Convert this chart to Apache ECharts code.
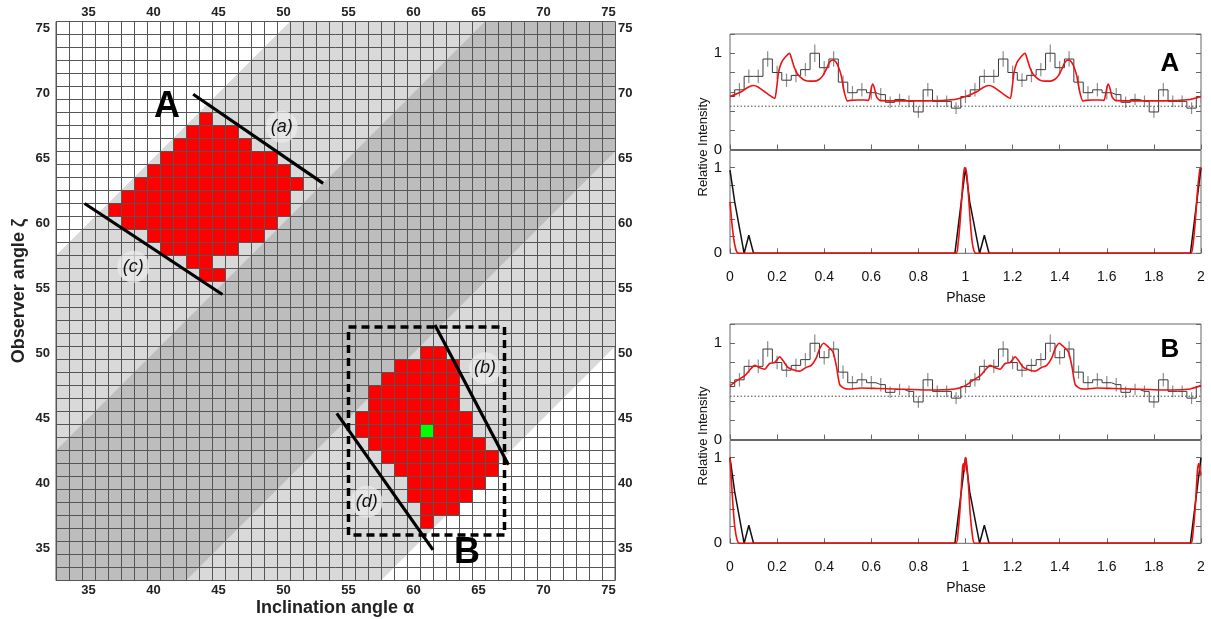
<!DOCTYPE html>
<html><head><meta charset="utf-8">
<script src="https://cdn.jsdelivr.net/npm/echarts@6/dist/echarts.min.js"></script>
<style>html,body{margin:0;padding:0;background:#fff}#c{width:1211px;height:619px}</style>
</head><body><div id="c"></div>
<script>
// ---------------- Left map data ----------------
const angleMin = 32.5, angleMax = 75.5;
const angleTicks = [35, 40, 45, 50, 55, 60, 65, 70, 75];
// shaded bands in beta = zeta - alpha
const bandLight = [-25, 25];
const bandDark = [-10, 10];
// red cells, rows: [zeta, alphaFrom, alphaTo]
const cellsA = [[68,44,44],[67,43,46],[66,42,47],[65,41,49],[64,40,50],[63,39,51],[62,38,50],[61,37,50],[60,38,49],[59,40,48],[58,41,46],[57,43,44],[56,44,45]];
const cellsB = [[50,61,62],[49,59,63],[48,58,63],[47,57,63],[46,57,63],[45,56,64],[44,56,64],[43,57,65],[42,58,66],[41,59,66],[40,60,65],[39,60,64],[38,61,63],[37,61,61]];
const bestCell = [61, 44];
const lineA = [[43.05, 69.9], [53.05, 63.05]];
const lineB = [[61.65, 52.15], [67.3, 41.4]];
const lineC = [[34.7, 61.5], [45.3, 54.5]];
const lineD = [[54.1, 45.35], [61.5, 34.85]];
const boxB = [[55, 52], [67, 52], [67, 36], [55, 36], [55, 52]];
const smallLabels = [["(a)", 49.86, 67.41], ["(b)", 65.5, 48.83], ["(c)", 38.45, 56.64], ["(d)", 56.4, 38.56]];
const bigLabels = [["A", 41.04, 68.92], ["B", 64.12, 34.62]];

// ---------------- Right panels data ----------------
const binPhase = [0,0.04,0.08,0.12,0.16,0.2,0.24,0.28,0.32,0.36,0.4,0.44,0.48,0.52,0.56,0.6,0.64,0.68,0.72,0.76,0.8,0.84,0.88,0.92,0.96];
const profile = [0.55,0.62,0.76,0.76,0.94,0.80,0.72,0.77,0.83,1.00,0.85,0.94,0.70,0.59,0.62,0.59,0.57,0.49,0.52,0.50,0.39,0.62,0.50,0.50,0.43];
const profileErr = [0.07,0.07,0.07,0.07,0.08,0.07,0.07,0.07,0.07,0.09,0.07,0.08,0.07,0.07,0.07,0.07,0.07,0.06,0.06,0.06,0.06,0.07,0.06,0.06,0.06];
const baseLevel = 0.45;
const modelA = [[0,0.55],[0.048,0.60],[0.075,0.645],[0.098,0.665],[0.119,0.65],[0.147,0.60],[0.17,0.56],[0.19,0.53],[0.198,0.64],[0.206,0.80],[0.218,0.90],[0.235,0.96],[0.253,1.00],[0.262,0.94],[0.272,0.86],[0.285,0.79],[0.30,0.75],[0.317,0.72],[0.34,0.71],[0.36,0.71],[0.38,0.73],[0.395,0.77],[0.41,0.84],[0.423,0.91],[0.437,0.93],[0.45,0.91],[0.462,0.85],[0.473,0.76],[0.485,0.60],[0.498,0.505],[0.51,0.51],[0.54,0.515],[0.57,0.515],[0.588,0.51],[0.597,0.60],[0.605,0.68],[0.613,0.64],[0.622,0.55],[0.636,0.51],[0.70,0.505],[0.84,0.505],[0.954,0.52],[1.0,0.55]];
const modelB = [[0,0.56],[0.034,0.62],[0.062,0.66],[0.083,0.72],[0.105,0.77],[0.126,0.745],[0.147,0.73],[0.168,0.79],[0.19,0.80],[0.211,0.86],[0.225,0.82],[0.246,0.75],[0.275,0.72],[0.296,0.71],[0.324,0.75],[0.345,0.77],[0.367,0.85],[0.38,0.94],[0.398,1.00],[0.416,0.965],[0.437,0.91],[0.452,0.76],[0.466,0.57],[0.487,0.53],[0.515,0.525],[0.558,0.535],[0.628,0.53],[0.70,0.525],[0.84,0.515],[0.954,0.525],[1.0,0.56]];
const pulseObsA = [[0,0.97],[0.02,0.6],[0.06,0],[0.08,0.21],[0.10,0],[0.955,0],[1.0,1.0],[1.018,0.6],[1.06,0],[1.08,0.21],[1.10,0],[1.955,0],[2.0,1.0]];
const pulseModelA = [[0,0.6],[0.01,0.3],[0.02,0.1],[0.03,0.01],[0.04,0],[0.958,0],[0.968,0.1],[0.978,0.4],[0.988,0.8],[0.996,1.0],[1.004,0.95],[1.012,0.7],[1.02,0.38],[1.028,0.14],[1.036,0.03],[1.045,0],[1.955,0],[1.965,0.08],[1.975,0.35],[1.985,0.72],[1.995,0.98],[2.0,1.0]];
const pulseObsB = [[0,1.0],[0.02,0.6],[0.06,0],[0.08,0.21],[0.10,0],[0.955,0],[1.0,1.0],[1.018,0.6],[1.06,0],[1.08,0.21],[1.10,0],[1.955,0],[2.0,1.0]];
const pulseModelB = [[0,1.0],[0.01,0.55],[0.02,0.2],[0.03,0.04],[0.04,0],[0.958,0],[0.968,0.12],[0.978,0.45],[0.988,0.9],[0.992,0.93],[0.996,0.84],[1.0,1.0],[1.004,0.95],[1.012,0.7],[1.02,0.35],[1.03,0.08],[1.04,0],[1.955,0],[1.965,0.1],[1.975,0.4],[1.985,0.85],[1.99,0.93],[1.996,0.85],[2.0,0.8]];

// ---------------- helpers ----------------
function clipStrip(lo, hi) {
  let poly = [[angleMin,angleMin],[angleMax,angleMin],[angleMax,angleMax],[angleMin,angleMax]];
  const clip = (pts, f) => {
    const out = [];
    for (let i = 0; i < pts.length; i++) {
      const a = pts[i], b = pts[(i + 1) % pts.length];
      const fa = f(a), fb = f(b);
      if (fa >= 0) out.push(a);
      if ((fa >= 0) !== (fb >= 0)) { const t = fa / (fa - fb); out.push([a[0] + t * (b[0] - a[0]), a[1] + t * (b[1] - a[1])]); }
    }
    return out;
  };
  poly = clip(poly, p => (p[1] - p[0]) - lo);
  poly = clip(poly, p => hi - (p[1] - p[0]));
  return poly;
}
const bands = [{lim: bandLight, color: '#d9d9d9'}, {lim: bandDark, color: '#bdbdbd'}];
function expandCells(rows) { const out = []; rows.forEach(r => { for (let a = r[1]; a <= r[2]; a++) out.push([a, r[0]]); }); return out; }
function twoCycles(pts) { return pts.concat(pts.filter(p => p[0] > 0).map(p => [p[0] + 1, p[1]])); }
const histPts = [], errPts = [];
for (let c = 0; c < 2; c++) binPhase.forEach((p, i) => { histPts.push([p + c, profile[i]]); errPts.push([p + c, profile[i], profileErr[i]]); });
histPts.push([2, profile[0]]); errPts.push([2, profile[0], profileErr[0]]);

const cellItem = (color) => (params, api) => {
  const p = api.coord([api.value(0) - 0.5, api.value(1) + 0.5]);
  const s = api.size([1, 1]);
  return {type: 'rect', shape: {x: p[0], y: p[1], width: s[0], height: s[1]}, style: {fill: color}};
};
const F = 'Liberation Sans, Arial, sans-serif';
const gridLine = {show: true, lineStyle: {color: '#555', width: 1}};
const tickLab = {fontFamily: F, fontWeight: 'bold', fontSize: 13, color: '#222'};

// ---------------- right panel layout ----------------
const panels = [
  {top: 34, height: 115.5, labels: false},
  {top: 150.5, height: 102.8, labels: true},
  {top: 324, height: 115.5, labels: false},
  {top: 440.5, height: 102.8, labels: true}
];
const grids = [{left: 56, top: 21.5, width: 559, height: 559, show: true, borderColor: '#555', borderWidth: 1}];
panels.forEach(p => grids.push({left: 730, top: p.top, width: 471, height: p.height, show: true, borderColor: '#666', borderWidth: 1}));

const xAxes = [
  {type: 'value', gridIndex: 0, position: 'bottom', min: angleMin, max: angleMax, interval: 1, z: 3,
   splitLine: gridLine, axisLine: {show: false}, axisTick: {show: false},
   axisLabel: Object.assign({customValues: angleTicks, margin: 3}, tickLab)},
  {type: 'value', gridIndex: 0, position: 'top', min: angleMin, max: angleMax, interval: 1,
   splitLine: {show: false}, axisLine: {show: false}, axisTick: {show: false},
   axisLabel: Object.assign({customValues: angleTicks, margin: 3}, tickLab)}
];
const yAxes = [
  {type: 'value', gridIndex: 0, position: 'left', min: angleMin, max: angleMax, interval: 1, z: 3,
   splitLine: gridLine, axisLine: {show: false}, axisTick: {show: false},
   axisLabel: Object.assign({customValues: angleTicks, margin: 6}, tickLab)},
  {type: 'value', gridIndex: 0, position: 'right', min: angleMin, max: angleMax, interval: 1,
   splitLine: {show: false}, axisLine: {show: false}, axisTick: {show: false},
   axisLabel: Object.assign({customValues: angleTicks, margin: 3}, tickLab)}
];
const rTick = {show: true, inside: true, length: 5, lineStyle: {color: '#666'}};
panels.forEach((p, i) => {
  xAxes.push({type: 'value', gridIndex: i + 1, min: 0, max: 2, interval: 0.2, position: 'bottom',
    axisLine: {show: false}, splitLine: {show: false}, axisTick: rTick,
    axisLabel: {show: p.labels, margin: 17, fontFamily: F, fontSize: 14, color: '#111'}});
});
panels.forEach((p, i) => {
  yAxes.push({type: 'value', gridIndex: i + 1, min: 0, max: 1.2, interval: 0.2, position: 'left',
    axisLine: {show: false}, splitLine: {show: false}, axisTick: rTick,
    axisLabel: {margin: 8, fontFamily: F, fontSize: 15, color: '#111',
      formatter: v => (Math.abs(v) < 1e-6 ? '0' : (Math.abs(v - 1) < 1e-6 ? '1' : ''))}});
});
panels.forEach((p, i) => {
  yAxes.push({type: 'value', gridIndex: i + 1, min: 0, max: 1.2, interval: 0.2, position: 'right',
    axisLine: {show: false}, splitLine: {show: false}, axisTick: rTick, axisLabel: {show: false}});
});

// ---------------- series ----------------
const series = [];
series.push({type: 'custom', xAxisIndex: 0, yAxisIndex: 0, z: 1, silent: true,
  data: bands.map(() => [54, 54]),
  renderItem: (params, api) => {
    const b = bands[params.dataIndex];
    const pts = clipStrip(b.lim[0], b.lim[1]).map(p => api.coord(p));
    return {type: 'polygon', shape: {points: pts}, style: {fill: b.color}};
  }});
series.push({type: 'custom', xAxisIndex: 0, yAxisIndex: 0, z: 2, silent: true,
  data: expandCells(cellsA).concat(expandCells(cellsB)), renderItem: cellItem('#ff0000')});
series.push({type: 'custom', xAxisIndex: 0, yAxisIndex: 0, z: 2, silent: true,
  data: [bestCell], renderItem: cellItem('#00ff00')});
[lineA, lineB, lineC, lineD].forEach(l => series.push({type: 'line', xAxisIndex: 0, yAxisIndex: 0, z: 6, data: l,
  symbol: 'none', silent: true, lineStyle: {color: '#000', width: 3.2}}));
series.push({type: 'line', xAxisIndex: 0, yAxisIndex: 0, z: 6, data: boxB, symbol: 'none', silent: true,
  lineStyle: {color: '#000', width: 3.5, type: [8, 5]}});

// profile panels (A top = grid1, B top = grid3)
[[1, modelA], [3, modelB]].forEach(([g, model]) => {
  series.push({type: 'line', xAxisIndex: g + 1, yAxisIndex: g + 1, data: [[0, baseLevel], [2, baseLevel]], symbol: 'none', silent: true,
    lineStyle: {color: '#444', width: 1, type: [1.5, 2]}});
  series.push({type: 'custom', xAxisIndex: g + 1, yAxisIndex: g + 1, silent: true, clip: true, data: errPts,
    renderItem: (params, api) => {
      const a = api.coord([api.value(0), api.value(1) - api.value(2)]);
      const b = api.coord([api.value(0), api.value(1) + api.value(2)]);
      return {type: 'line', shape: {x1: a[0], y1: a[1], x2: b[0], y2: b[1]}, style: {stroke: '#8c8c8c', lineWidth: 1.2}};
    }});
  series.push({type: 'line', xAxisIndex: g + 1, yAxisIndex: g + 1, data: histPts, step: 'middle', symbol: 'none', silent: true,
    lineStyle: {color: '#3a3a3a', width: 1}});
  series.push({type: 'line', xAxisIndex: g + 1, yAxisIndex: g + 1, data: twoCycles(model), symbol: 'none', silent: true, smooth: 0.2,
    lineStyle: {color: '#ee1111', width: 1.6}});
});
// pulse panels (A bottom = grid2, B bottom = grid4)
[[2, pulseObsA, pulseModelA], [4, pulseObsB, pulseModelB]].forEach(([g, obs, mod]) => {
  series.push({type: 'line', xAxisIndex: g + 1, yAxisIndex: g + 1, data: obs, symbol: 'none', silent: true,
    lineStyle: {color: '#111', width: 1.5}});
  series.push({type: 'line', xAxisIndex: g + 1, yAxisIndex: g + 1, data: mod, symbol: 'none', silent: true, smooth: 0.3,
    lineStyle: {color: '#ee1111', width: 1.6}});
});

const txt = (text, x, y, o) => ({type: 'text', x: x, y: y, rotation: (o && o.rot) || 0, silent: true, z: 50,
  style: {text: text, x: 0, y: 0, align: 'center', verticalAlign: 'middle', fontFamily: F,
    fontSize: (o && o.size) || 14, fontWeight: (o && o.bold) ? 'bold' : 'normal',
    fontStyle: (o && o.italic) ? 'italic' : 'normal', fill: (o && o.color) || '#111'}});

const chart = echarts.init(document.getElementById('c'), null, {renderer: 'canvas'});
chart.setOption({
  animation: false,
  backgroundColor: '#fff',
  grid: grids,
  xAxis: xAxes,
  yAxis: yAxes,
  series: series
});
// labels placed through the map's own axes
const toPx = (a, z) => chart.convertToPixel({xAxisIndex: 0, yAxisIndex: 0}, [a, z]);
const graphics = [
  txt('Inclination angle α', 335, 608, {size: 18, bold: true, color: '#222'}),
  txt('Observer angle ζ', 19, 291, {size: 18, bold: true, color: '#222', rot: Math.PI / 2}),
  txt('Relative Intensity', 703, 147, {size: 13, rot: Math.PI / 2}),
  txt('Relative Intensity', 703, 436, {size: 13, rot: Math.PI / 2}),
  txt('Phase', 966, 298, {size: 14}),
  txt('Phase', 966, 588, {size: 14}),
  txt('A', 1170, 64, {size: 26, bold: true, color: '#000'}),
  txt('B', 1170, 350, {size: 26, bold: true, color: '#000'})
];
smallLabels.forEach(l => {
  const p = toPx(l[1], l[2]);
  graphics.push({type: 'circle', silent: true, z: 49, shape: {cx: p[0], cy: p[1], r: 16}, style: {fill: 'rgba(236,236,236,0.7)'}});
  graphics.push(txt(l[0], p[0], p[1], {size: 18, italic: true, color: '#111'}));
});
bigLabels.forEach(l => {
  const p = toPx(l[1], l[2]);
  graphics.push(txt(l[0], p[0], p[1], {size: 36, bold: true, color: '#000'}));
});
chart.setOption({graphic: graphics});
</script></body></html>
